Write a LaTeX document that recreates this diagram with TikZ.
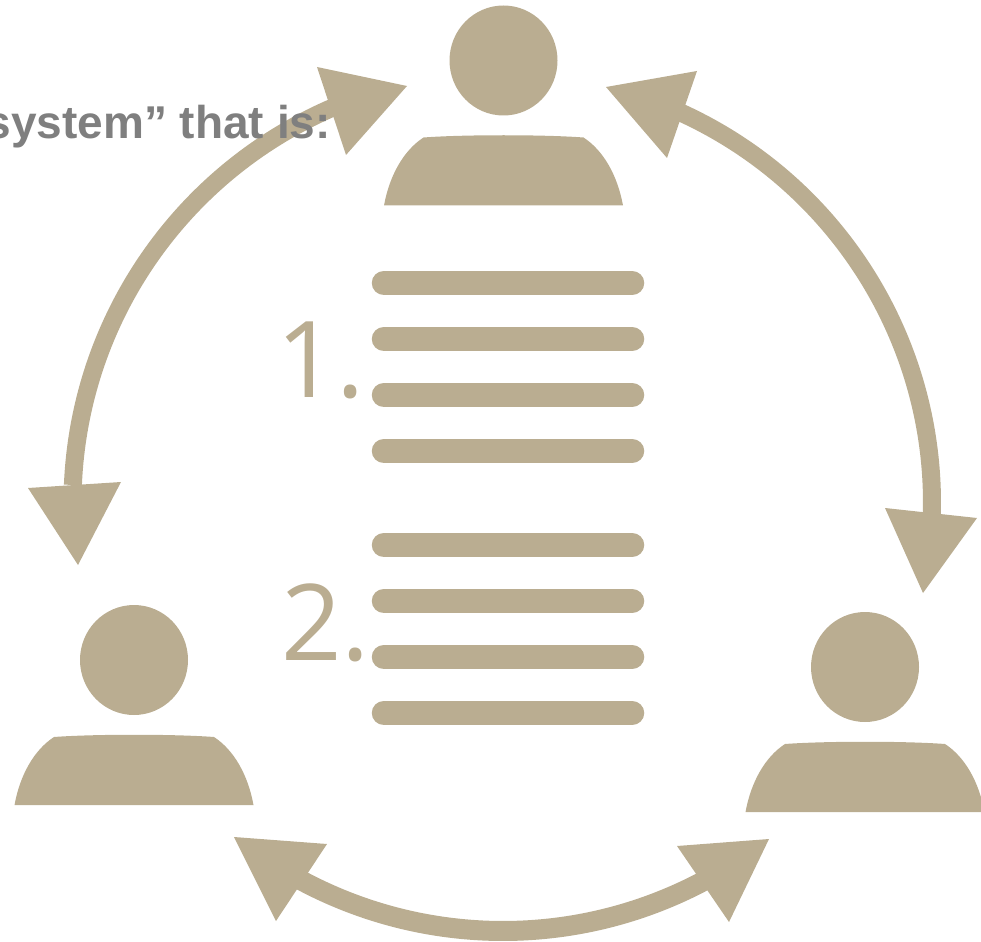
\documentclass[tikz,border=0pt]{standalone}
\usepackage{fontspec}
\usepackage{tikz}

\setmainfont{Liberation Sans}
\newfontfamily\numfont{Open Sans}
\definecolor{khaki}{HTML}{BAAD91}
\definecolor{slate}{HTML}{7F7F7F}

\tikzset{
    ring/.style={draw=khaki, line width=18pt},
    tip/.style={fill=khaki},
    bar/.style={draw=khaki, line width=24.5pt, line cap=round},
    person/.style={fill=khaki}
}

\begin{document}
\begin{tikzpicture}[x=1pt, y=-1pt]
    \useasboundingbox (0, 0) rectangle (981, 941);
    \clip (0, 0) rectangle (981, 941);

    \coordinate (hub) at (503, 503);

    % arcs between the three people
    \draw[ring] (hub) ++(182.4:430.5) coordinate (leftend) arc[start angle=182.4, end angle=247, radius=430.5] coordinate (topleftend);
    \draw[ring] (hub) ++(2.3:429) coordinate (rightend) arc[start angle=2.3, end angle=-65.7, radius=429] coordinate (toprightend);
    \draw[ring, line width=20pt] (hub) ++(118.3:428) coordinate (bottomleftend) arc[start angle=118.3, end angle=61.8, radius=428] coordinate (bottomrightend);

    % arrow heads
    \fill[tip] (317, 67) -- (407, 86) -- (346, 155) -- cycle;
    \fill[tip] (28, 488) -- (121, 482) -- (78, 565) -- cycle;
    \fill[tip] (697, 71) -- (606, 87) -- (667, 158) -- cycle;
    \fill[tip] (885, 508) -- (977, 518) -- (923, 593) -- cycle;
    \fill[tip] (234, 837) -- (327, 844) -- (276, 921) -- cycle;
    \fill[tip] (769, 839) -- (677, 846) -- (729, 922) -- cycle;

    % people
    \foreach \px/\py in {503.5/60.5, 134/660, 865/667} {
        \begin{scope}[shift={(\px, \py)}]
            \fill[person] (0, 0) ellipse[x radius=54, y radius=55];
            \fill[person] (-119.5, 145) .. controls (-114, 115) and (-100, 90) .. (-80, 77)
                .. controls (-40, 74) and (40, 74) .. (80, 77)
                .. controls (100, 90) and (114, 115) .. (119.5, 145) -- cycle;
        \end{scope}
    }

    % list bars
    \foreach \py in {283, 339, 395, 451, 545, 601, 657, 713} {
        \draw[bar] (384, \py) -- (632, \py);
    }

    \node[anchor=base west, inner sep=0pt, text=khaki] (one) at (276, 397) {\fontsize{106}{110}\numfont 1.};
    \node[anchor=base west, inner sep=0pt, text=khaki] (two) at (281, 660) {\fontsize{106}{110}\numfont 2.};

    \node[anchor=base east, inner sep=0pt, text=slate] (caption) at (331, 139) {\fontsize{46}{50}\selectfont\bfseries system” that is:};
\end{tikzpicture}
\end{document}
